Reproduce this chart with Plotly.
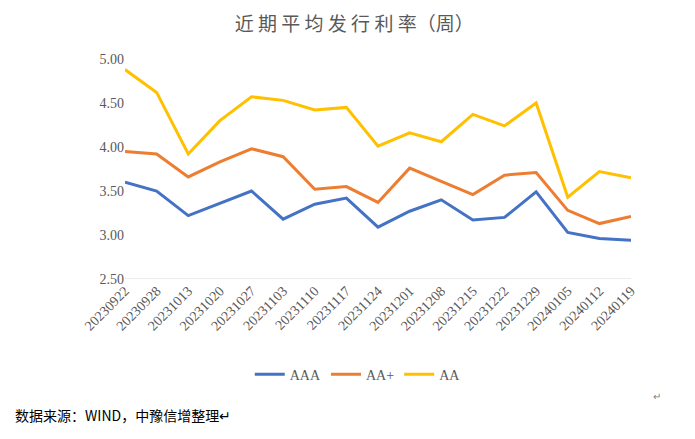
import plotly.graph_objects as go

# 数据
dates = ["20230922", "20230928", "20231013", "20231020", "20231027", "20231103",
         "20231110", "20231117", "20231124", "20231201", "20231208", "20231215",
         "20231222", "20231229", "20240105", "20240112", "20240119"]
aaa = [3.60, 3.50, 3.22, 3.36, 3.50, 3.18, 3.35, 3.42, 3.09, 3.27, 3.40, 3.17,
       3.20, 3.49, 3.03, 2.96, 2.94]
aa_plus = [3.95, 3.92, 3.66, 3.83, 3.98, 3.89, 3.52, 3.55, 3.37, 3.76, 3.61, 3.46,
           3.68, 3.71, 3.28, 3.13, 3.21]
aa = [4.88, 4.62, 3.92, 4.30, 4.57, 4.53, 4.42, 4.45, 4.01, 4.16, 4.06, 4.37,
      4.24, 4.50, 3.43, 3.72, 3.65]
y_ticks = [2.5, 3.0, 3.5, 4.0, 4.5, 5.0]

cjk = "Noto Sans CJK SC"
serif = "Liberation Serif"

fig = go.Figure()
for name, vals, color in [("AAA", aaa, "#4472C4"),
                          ("AA+", aa_plus, "#ED7D31"),
                          ("AA", aa, "#FFC000")]:
    fig.add_trace(go.Scatter(x=dates, y=vals, name=name, mode="lines",
                             line=dict(color=color, width=3)))

# page body has an 8px margin, so the figure is 8px smaller and shifted
fig.update_layout(
    width=687, height=431,
    paper_bgcolor="white", plot_bgcolor="white",
    margin=dict(l=117, r=64, t=51, b=160),
    title=dict(text="近 期 平 均 发 行 利 率（周）", x=0.504, xref="container",
               xanchor="center", y=0.962, yref="container", yanchor="middle",
               font=dict(family=cjk, size=19, color="#595959")),
    showlegend=True,
    legend=dict(orientation="h", x=0.46, xanchor="center", y=-0.435,
                yanchor="middle", font=dict(family=serif, size=14, color="#595959"),
                itemwidth=30, tracegroupgap=0),
    xaxis=dict(type="category", tickangle=-45, showgrid=False, showline=False,
               ticks="", automargin=False,
               tickfont=dict(family=serif, size=14, color="#595959")),
    yaxis=dict(range=[2.5, 5.0], tickvals=y_ticks, tickformat=".2f",
               showgrid=False, zeroline=False, showline=False, ticks="",
               automargin=False,
               tickfont=dict(family=serif, size=14, color="#595959")),
    shapes=[dict(type="line", xref="paper", yref="y", x0=0, x1=1, y0=2.5, y1=2.5,
                 line=dict(color="#D9D9D9", width=1))],
    annotations=[
        dict(text="数据来源：WIND，中豫信增整理↵", xref="paper", yref="paper",
             x=-0.222, y=-0.62, xanchor="left", yanchor="middle", showarrow=False,
             font=dict(family=cjk, size=14, color="#000000")),
        dict(text="↵", xref="paper", yref="paper", x=1.04, y=-0.53,
             xanchor="left", yanchor="middle", showarrow=False,
             font=dict(family=cjk, size=10, color="#808080")),
    ],
)

fig.write_html("out.html")
